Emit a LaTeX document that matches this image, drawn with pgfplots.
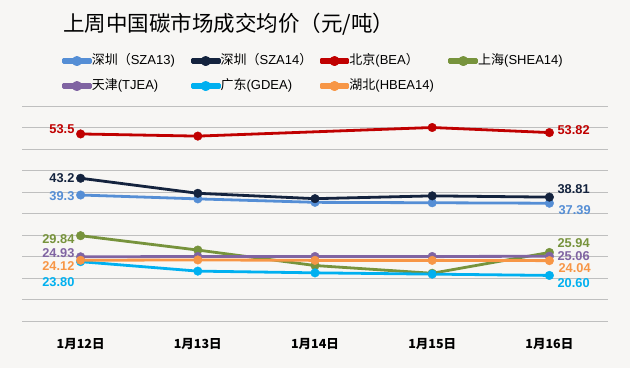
\documentclass[border=0pt]{standalone}
\usepackage{pgfplots}
\pgfplotsset{compat=1.18}
\usepackage{fontspec}
\setmainfont{Liberation Sans}
\newfontfamily\cjk{Noto Sans CJK SC}
\definecolor{bg}{RGB}{247,246,244}
\definecolor{gridc}{RGB}{191,191,191}
\definecolor{cSZAa}{RGB}{85,142,213}
\definecolor{cSZAb}{RGB}{20,35,62}
\definecolor{cBJ}{RGB}{192,0,0}
\definecolor{cSH}{RGB}{119,147,60}
\definecolor{cTJ}{RGB}{128,100,162}
\definecolor{cGD}{RGB}{0,176,240}
\definecolor{cHB}{RGB}{247,150,70}
\pgfplotsset{
  ser/.style={color=#1, line width=2.8pt, line join=round, mark=*, mark size=4.3pt, mark options={solid, line width=0.4pt, fill=#1},
    legend image code/.code={\fill[color=#1] (0pt,-1.4pt) rectangle (27pt,1.4pt);
      \fill[color=#1] (13.5pt,0pt) circle[radius=3.6pt];}},
}
\begin{document}
\begin{tikzpicture}
\useasboundingbox (0pt,0pt) rectangle (630pt,368pt);
\fill[bg] (0pt,0pt) rectangle (630pt,368pt);
\node[anchor=west, font=\cjk\fontsize{21.5}{25}\selectfont, inner sep=0pt] at (63pt,344pt) {上周中国碳市场成交均价（元/吨）};
\begin{axis}[
  at={(22pt,47pt)}, anchor=south west,
  width=586pt, height=215pt, scale only axis,
  xmin=-0.5, xmax=4.5, ymin=10, ymax=60,
  xtick={0,1,2,3,4},
  xticklabels={1月12日,1月13日,1月14日,1月15日,1月16日},
  ytick={10,15,...,60}, yticklabels={},
  ymajorgrids, grid style={draw=gridc, line width=1pt},
  axis line style={draw=none}, major tick length=0pt,
  xticklabel style={font=\cjk\bfseries\fontsize{12.5}{14}\selectfont, yshift=-14pt},
  clip=false,
  legend columns=4,
  legend cell align=left,
  legend style={at={(axis description cs:0.0683,1.244)}, anchor=north west, draw=none, fill=none,
    inner sep=0pt, outer sep=0pt, column sep=0pt, row sep=10pt,
    font=\fontsize{13}{15}\selectfont,
    nodes={inner sep=1pt, text width=98pt, align=left, text height=10pt, text depth=3pt},
    /tikz/every odd column/.append style={column sep=-1pt}},
]
\addplot[ser=cSZAa] coordinates {(0,39.3) (1,38.4) (2,37.6) (3,37.5) (4,37.39)};
\addlegendentry{{\cjk 深圳（}SZA13)}
\addplot[ser=cSZAb] coordinates {(0,43.2) (1,39.7) (2,38.45) (3,39.1) (4,38.81)};
\addlegendentry{{\cjk 深圳（}SZA14{\cjk ）}}
\addplot[ser=cBJ] coordinates {(0,53.5) (1,53.0) (3,55.0) (4,53.82)};
\addlegendentry{{\cjk 北京}(BEA{\cjk ）}}
\addplot[ser=cSH] coordinates {(0,29.84) (1,26.5) (2,22.9) (3,21.1) (4,25.94)};
\addlegendentry{{\cjk 上海}(SHEA14)}
\addplot[ser=cTJ] coordinates {(0,24.93) (1,25.0) (2,25.0) (3,25.0) (4,25.06)};
\addlegendentry{{\cjk 天津}(TJEA)}
\addplot[ser=cGD] coordinates {(0,23.80) (1,21.6) (2,21.2) (3,20.9) (4,20.60)};
\addlegendentry{{\cjk 广东}(GDEA)}
\addplot[ser=cHB] coordinates {(0,24.12) (1,24.2) (2,24.1) (3,24.1) (4,24.04)};
\addlegendentry{{\cjk 湖北}(HBEA14)}
% left labels
\node[font=\bfseries\fontsize{12.8}{14}\selectfont, text=cBJ, inner sep=0pt, anchor=east, xshift=-6pt] at (axis cs:0,54.65) {53.5};
\node[font=\bfseries\fontsize{12.8}{14}\selectfont, text=cSZAb, inner sep=0pt, anchor=east, xshift=-6pt] at (axis cs:0,43.26) {43.2};
\node[font=\bfseries\fontsize{12.8}{14}\selectfont, text=cSZAa, inner sep=0pt, anchor=east, xshift=-6pt] at (axis cs:0,39.1) {39.3};
\node[font=\bfseries\fontsize{12.8}{14}\selectfont, text=cSH, inner sep=0pt, anchor=east, xshift=-6pt] at (axis cs:0,29.07) {29.84};
\node[font=\bfseries\fontsize{12.8}{14}\selectfont, text=cTJ, inner sep=0pt, anchor=east, xshift=-6pt] at (axis cs:0,25.81) {24.93};
\node[font=\bfseries\fontsize{12.8}{14}\selectfont, text=cHB, inner sep=0pt, anchor=east, xshift=-6pt] at (axis cs:0,22.79) {24.12};
\node[font=\bfseries\fontsize{12.8}{14}\selectfont, text=cGD, inner sep=0pt, anchor=east, xshift=-6pt] at (axis cs:0,19.07) {23.80};
% right labels
\node[font=\bfseries\fontsize{12.8}{14}\selectfont, text=cBJ, inner sep=0pt, anchor=west, xshift=8pt] at (axis cs:4,54.42) {53.82};
\node[font=\bfseries\fontsize{12.8}{14}\selectfont, text=cSZAb, inner sep=0pt, anchor=west, xshift=8pt] at (axis cs:4,40.7) {38.81};
\node[font=\bfseries\fontsize{12.8}{14}\selectfont, text=cSZAa, inner sep=0pt, anchor=west, xshift=9pt] at (axis cs:4,35.8) {37.39};
\node[font=\bfseries\fontsize{12.8}{14}\selectfont, text=cSH, inner sep=0pt, anchor=west, xshift=8pt] at (axis cs:4,28.14) {25.94};
\node[font=\bfseries\fontsize{12.8}{14}\selectfont, text=cTJ, inner sep=0pt, anchor=west, xshift=8pt] at (axis cs:4,25.12) {25.06};
\node[font=\bfseries\fontsize{12.8}{14}\selectfont, text=cHB, inner sep=0pt, anchor=west, xshift=9pt] at (axis cs:4,22.33) {24.04};
\node[font=\bfseries\fontsize{12.8}{14}\selectfont, text=cGD, inner sep=0pt, anchor=west, xshift=8pt] at (axis cs:4,18.84) {20.60};
\end{axis}
\end{tikzpicture}
\end{document}
